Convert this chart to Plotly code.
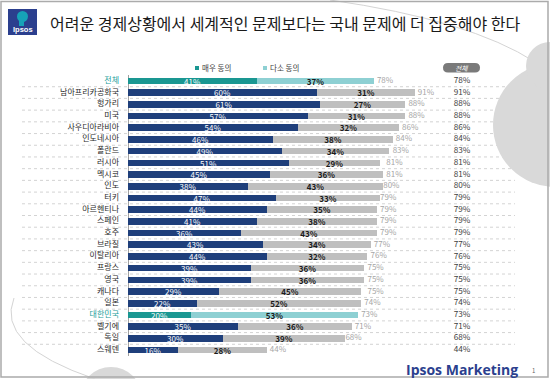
import plotly.graph_objects as go

# ---------------- data ----------------
countries = ["전체", "남아프리카공화국", "헝가리", "미국", "사우디아라비아", "인도네시아", "폴란드",
             "러시아", "멕시코", "인도", "터키", "아르헨티나", "스페인", "호주", "브라질", "이탈리아",
             "프랑스", "영국", "캐나다", "일본", "대한민국", "벨기에", "독일", "스웨덴"]
strongly_agree = [41, 60, 61, 57, 54, 46, 49, 51, 45, 38, 47, 44, 41, 36, 43, 44, 39, 39, 29, 22, 20, 35, 30, 16]
somewhat_agree = [37, 31, 27, 31, 32, 38, 34, 29, 36, 43, 33, 35, 38, 43, 34, 32, 36, 36, 45, 52, 53, 36, 39, 28]
total_agree = [78, 91, 88, 88, 86, 84, 83, 81, 81, 80, 79, 79, 79, 79, 77, 76, 75, 75, 75, 74, 73, 71, 68, 44]
highlight = ["전체", "대한민국"]

title_text = "어려운 경제상황에서 세계적인 문제보다는 국내 문제에 더 집중해야 한다"
legend_names = ["매우 동의", "다소 동의"]
column_header = "전체"

# ---------------- layout constants ----------------
W, H = 550, 379
X0_PX = 128          # pixel of value 0
PX_PER = 3.15        # pixels per percentage point
TOP, BOT = 75, 356   # plot area in pixels

FONT = "Noto Sans CJK KR"
NAVY, GRAY = "#1F3F7B", "#BFBFBF"
TEAL, CYAN = "#1A9792", "#8ED0D3"
LABEL_TEAL = "#1AA09B"


def px_x(px):
    return px / W


def px_y(py):
    return (BOT - py) / (BOT - TOP)


def dx(px):
    return (px - X0_PX) / PX_PER


c1 = [TEAL if c in highlight else NAVY for c in countries]
c2 = [CYAN if c in highlight else GRAY for c in countries]
lab_col = [LABEL_TEAL if c in highlight else "#2A2A2A" for c in countries]

fig = go.Figure()
fig.add_trace(go.Bar(
    y=countries, x=strongly_agree, orientation="h", marker=dict(color=c1, line=dict(width=0)),
    width=0.56, text=[f"{v}%" for v in strongly_agree], textposition="inside",
    insidetextanchor="middle", textangle=0, constraintext="none",
    textfont=dict(family=FONT, size=8, color="white"), hoverinfo="skip", name=legend_names[0]))
fig.add_trace(go.Bar(
    y=countries, x=somewhat_agree, orientation="h", marker=dict(color=c2, line=dict(width=0)),
    width=0.56, text=[f"<b>{v}%</b>" for v in somewhat_agree], textposition="inside",
    insidetextanchor="middle", textangle=0, constraintext="none",
    textfont=dict(family=FONT, size=8, color="#1A1A1A"), hoverinfo="skip", name=legend_names[1]))
# total after bar
fig.add_trace(go.Scatter(
    y=countries, x=total_agree, mode="text", text=[f"\u2009\u2009{v}%" for v in total_agree],
    textposition="middle right", textfont=dict(family=FONT, size=8, color="#A6A6A6"),
    hoverinfo="skip", cliponaxis=False))
# right column
fig.add_trace(go.Scatter(
    y=countries, x=[dx(462)] * len(countries), mode="text", text=[f"{v}%" for v in total_agree],
    textposition="middle center", textfont=dict(family=FONT, size=8.2, color="#404040"),
    hoverinfo="skip", cliponaxis=False))
# category labels
fig.add_trace(go.Scatter(
    y=countries, x=[dx(119)] * len(countries), mode="text", text=countries,
    textposition="middle left", textfont=dict(family=FONT, size=8, color=lab_col),
    hoverinfo="skip", cliponaxis=False))

shapes = []
# dotted separators
for i in range(len(countries) - 1):
    shapes.append(dict(type="line", xref="paper", yref="y", x0=px_x(22), x1=px_x(515),
                       y0=i + 0.5, y1=i + 0.5, line=dict(color="#C8C8C8", width=0.8, dash="dot"),
                       layer="below"))

# background decorations
shapes.append(dict(type="path", xref="paper", yref="paper",
                   path=f"M {px_x(330)},{px_y(0)} Q {px_x(470)},{px_y(20)} {px_x(535)},{px_y(62)}",
                   line=dict(color="#D4D4D4", width=1), layer="below"))
shapes.append(dict(type="circle", xref="paper", yref="paper", x0=px_x(493), x1=px_x(617),
                   y0=px_y(63), y1=px_y(187), fillcolor="#D9D9D9", line=dict(width=0), layer="below"))
shapes.append(dict(type="circle", xref="paper", yref="paper", x0=px_x(526), x1=px_x(574),
                   y0=px_y(42), y1=px_y(90), fillcolor="#D9D9D9", line=dict(width=0), layer="below"))
shapes.append(dict(type="circle", xref="paper", yref="paper", x0=px_x(80), x1=px_x(142),
                   y0=px_y(367), y1=px_y(429), fillcolor="#D9D9D9", line=dict(width=0), layer="below"))
shapes.append(dict(type="path", xref="paper", yref="paper",
                   path=f"M {px_x(14)},{px_y(298)} Q {px_x(-5)},{px_y(345)} {px_x(95)},{px_y(379)}",
                   line=dict(color="#D4D4D4", width=1), layer="below"))
# frame
shapes.append(dict(type="rect", xref="paper", yref="paper", x0=px_x(1), x1=px_x(548),
                   y0=px_y(1.5), y1=px_y(377), line=dict(color="#ABABAB", width=1.5)))
# logo
shapes.append(dict(type="rect", xref="paper", yref="paper", x0=px_x(8), x1=px_x(37),
                   y0=px_y(9), y1=px_y(35), fillcolor="#2B3F8E", line=dict(width=0)))
shapes.append(dict(type="circle", xref="paper", yref="paper", x0=px_x(17), x1=px_x(28),
                   y0=px_y(11), y1=px_y(22), fillcolor="#16A2B8", line=dict(width=0)))
shapes.append(dict(type="rect", xref="paper", yref="paper", x0=px_x(19), x1=px_x(24),
                   y0=px_y(20), y1=px_y(26), fillcolor="#16A2B8", line=dict(width=0)))
# legend squares
shapes.append(dict(type="rect", xref="paper", yref="paper", x0=px_x(195), x1=px_x(199),
                   y0=px_y(66), y1=px_y(70), fillcolor=TEAL, line=dict(width=0)))
shapes.append(dict(type="rect", xref="paper", yref="paper", x0=px_x(263), x1=px_x(267),
                   y0=px_y(66), y1=px_y(70), fillcolor=CYAN, line=dict(width=0)))
# header pill (rounded)
l, r, t, b, rad = px_x(443), px_x(480), px_y(63), px_y(72.5), 5 / W
rady = 4.75 / (BOT - TOP)
pill = (f"M {l + rad},{t} L {r - rad},{t} Q {r},{t} {r},{t - rady} "
        f"Q {r},{b} {r - rad},{b} L {l + rad},{b} Q {l},{b} {l},{b + rady} Q {l},{t} {l + rad},{t} Z")
shapes.append(dict(type="path", xref="paper", yref="paper", path=pill,
                   fillcolor="#7A7A7A", line=dict(width=0)))

annotations = [
    dict(xref="paper", yref="paper", x=px_x(48), y=px_y(23), text=title_text, showarrow=False,
         xanchor="left", yanchor="middle", font=dict(family=FONT, size=16, color="#1A1A1A")),
    dict(xref="paper", yref="paper", x=px_x(22.5), y=px_y(29.5), text="<b>Ipsos</b>", showarrow=False,
         xanchor="center", yanchor="middle", font=dict(family="Liberation Sans", size=7.5, color="white")),
    dict(xref="paper", yref="paper", x=px_x(200), y=px_y(68), text=legend_names[0], showarrow=False,
         xanchor="left", yanchor="middle", font=dict(family=FONT, size=7.5, color="#404040")),
    dict(xref="paper", yref="paper", x=px_x(268), y=px_y(68), text=legend_names[1], showarrow=False,
         xanchor="left", yanchor="middle", font=dict(family=FONT, size=7.5, color="#404040")),
    dict(xref="paper", yref="paper", x=px_x(461.5), y=px_y(67.7), text=f"<i>{column_header}</i>",
         showarrow=False, xanchor="center", yanchor="middle",
         font=dict(family=FONT, size=6.8, color="white")),
    dict(xref="paper", yref="paper", x=px_x(520), y=px_y(369), text="<b>Ipsos Marketing</b>",
         showarrow=False, xanchor="right", yanchor="middle",
         font=dict(family="Open Sans", size=14, color="#2B3F8E")),
    dict(xref="paper", yref="paper", x=px_x(533), y=px_y(370), text="1", showarrow=False,
         xanchor="center", yanchor="middle", font=dict(family=FONT, size=6, color="#666666")),
]

fig.update_layout(
    width=W, height=H, barmode="stack", showlegend=False,
    margin=dict(l=0, r=0, t=TOP, b=H - BOT, pad=0),
    paper_bgcolor="white", plot_bgcolor="rgba(0,0,0,0)",
    xaxis=dict(range=[dx(0), dx(W)], showgrid=False, showticklabels=False, zeroline=True,
               zerolinecolor="#A0A0A0", zerolinewidth=1, fixedrange=True),
    yaxis=dict(type="category", categoryorder="array", categoryarray=countries,
               range=[len(countries) - 0.5, -0.5], showticklabels=False, showgrid=False,
               zeroline=False, fixedrange=True),
    shapes=shapes, annotations=annotations, bargap=0,
)

fig.write_html("out.html", config={"displayModeBar": False},
               post_script="document.body.style.margin='0px';document.body.style.overflow='hidden';")
